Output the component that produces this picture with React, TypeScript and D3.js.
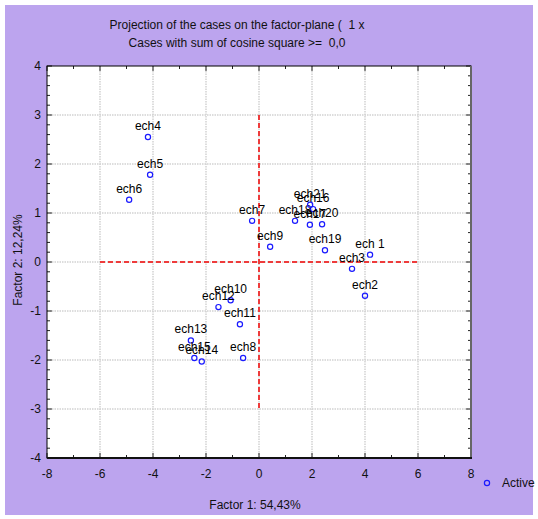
import * as d3 from "d3";

// cases (Factor 1, Factor 2)
const caseNames = [
  "ech 1", "ech2", "ech3", "ech4", "ech5", "ech6", "ech7", "ech8", "ech9", "ech10", "ech11",
  "ech12", "ech13", "ech14", "ech15", "ech16", "ech17", "ech18", "ech19", "ech20", "ech21",
];
const factor1 = [
  4.19, 4.0, 3.51, -4.19, -4.11, -4.9, -0.26, -0.6, 0.42, -1.07, -0.72,
  -1.53, -2.57, -2.16, -2.44, 2.04, 1.92, 1.36, 2.49, 2.38, 1.93,
];
const factor2 = [
  0.15, -0.69, -0.14, 2.55, 1.78, 1.27, 0.84, -1.96, 0.31, -0.78, -1.27,
  -0.92, -1.6, -2.03, -1.96, 1.08, 0.76, 0.84, 0.24, 0.77, 1.17,
];

const xTicks = [-8, -6, -4, -2, 0, 2, 4, 6, 8];
const yTicks = [-4, -3, -2, -1, 0, 1, 2, 3, 4];
const xGrid = [-6, -4, -2, 0, 2, 4, 6];
const yGrid = [-3, -2, -1, 0, 1, 2, 3];

const titleLines = [
  "Projection of the cases on the factor-plane (  1 x",
  "Cases with sum of cosine square >=  0,0",
];

const W = 538;
const H = 519;
const plot = { left: 47, right: 471, top: 66, bottom: 458 };
const FONT = "'Liberation Sans', Arial, sans-serif";

export default function App() {
  const x = d3.scaleLinear().domain([-8, 8]).range([plot.left, plot.right]);
  const y = d3.scaleLinear().domain([-4, 4]).range([plot.bottom, plot.top]);

  const xMinor = d3.range(-8, 8.01, 1);
  const yMinor = d3.range(-4, 4.01, 0.2);

  return (
    <svg
      width={W}
      height={H}
      style={{ position: "absolute", left: 0, top: 0, fontFamily: FONT }}
    >
      <rect x={0} y={0} width={W} height={H} fill="#ffffff" />
      <rect x={5} y={5} width={528} height={510} fill="#bca4ee" />

      {titleLines.map((t, i) => (
        <text
          key={t}
          x={237}
          y={29 + i * 18}
          textAnchor="middle"
          fontSize={12}
          fill="#111"
          style={{ whiteSpace: "pre" }}
        >
          {t}
        </text>
      ))}

      <rect
        x={plot.left}
        y={plot.top}
        width={plot.right - plot.left}
        height={plot.bottom - plot.top}
        fill="#ffffff"
      />

      {/* grid */}
      {xGrid.map((v) => (
        <line
          key={"gx" + v}
          x1={x(v)}
          x2={x(v)}
          y1={plot.top}
          y2={plot.bottom}
          stroke="#d2d2d2"
          strokeWidth={1.5}
          strokeDasharray="1.5 1"
        />
      ))}
      {yGrid.map((v) => (
        <line
          key={"gy" + v}
          x1={plot.left}
          x2={plot.right}
          y1={y(v)}
          y2={y(v)}
          stroke="#d2d2d2"
          strokeWidth={1.5}
          strokeDasharray="1.5 1"
        />
      ))}

      {/* reference lines */}
      <line x1={x(-6)} x2={x(6)} y1={y(0)} y2={y(0)} stroke="#ee3b3b" strokeWidth={2} strokeDasharray="5 3" />
      <line x1={x(0)} x2={x(0)} y1={y(3)} y2={y(-3)} stroke="#ee3b3b" strokeWidth={2} strokeDasharray="5 3" />

      {/* ticks inside the frame */}
      {xMinor.map((v) => {
        const len = v % 2 === 0 ? 5 : 3;
        return (
          <g key={"tx" + v}>
            <line x1={x(v)} x2={x(v)} y1={plot.bottom} y2={plot.bottom - len} stroke="#222" />
            <line x1={x(v)} x2={x(v)} y1={plot.top} y2={plot.top + len} stroke="#222" />
          </g>
        );
      })}
      {yMinor.map((v) => {
        const major = Math.abs(v - Math.round(v)) < 1e-6;
        const len = major ? 5 : 3;
        return (
          <g key={"ty" + v.toFixed(1)}>
            <line x1={plot.left} x2={plot.left + len} y1={y(v)} y2={y(v)} stroke="#222" />
            <line x1={plot.right} x2={plot.right - len} y1={y(v)} y2={y(v)} stroke="#222" />
          </g>
        );
      })}

      {/* frame */}
      <rect
        x={plot.left}
        y={plot.top}
        width={plot.right - plot.left}
        height={plot.bottom - plot.top}
        fill="none"
        stroke="#000"
        strokeWidth={1}
      />
      <line x1={plot.right} x2={plot.right} y1={plot.top} y2={plot.bottom + 1} stroke="#666" strokeWidth={2} />
      <line x1={plot.left} x2={plot.right + 1} y1={plot.bottom} y2={plot.bottom} stroke="#111" strokeWidth={2} />

      {/* tick labels */}
      {xTicks.map((v) => (
        <text key={"lx" + v} x={x(v)} y={478} textAnchor="middle" fontSize={12} fill="#111">
          {v}
        </text>
      ))}
      {yTicks.map((v) => (
        <text key={"ly" + v} x={41} y={y(v) + 4} textAnchor="end" fontSize={12} fill="#111">
          {v}
        </text>
      ))}

      {/* axis titles */}
      <text x={255} y={509} textAnchor="middle" fontSize={12} fill="#111">
        Factor 1: 54,43%
      </text>
      <text
        transform={`translate(22, ${260}) rotate(-90)`}
        textAnchor="middle"
        fontSize={12}
        fill="#111"
      >
        Factor 2: 12,24%
      </text>

      {/* points */}
      {caseNames.map((name, i) => (
        <g key={name}>
          <circle
            cx={x(factor1[i])}
            cy={y(factor2[i])}
            r={2.6}
            fill="none"
            stroke="#1a1aff"
            strokeWidth={1.2}
          />
          <text
            x={x(factor1[i])}
            y={y(factor2[i]) - 7}
            textAnchor="middle"
            fontSize={12}
            fill="#000"
          >
            {name}
          </text>
        </g>
      ))}

      {/* legend */}
      <circle cx={487} cy={483} r={2.6} fill="none" stroke="#1a1aff" strokeWidth={1.2} />
      <text x={502} y={487} fontSize={12} fill="#111">
        Active
      </text>
    </svg>
  );
}
